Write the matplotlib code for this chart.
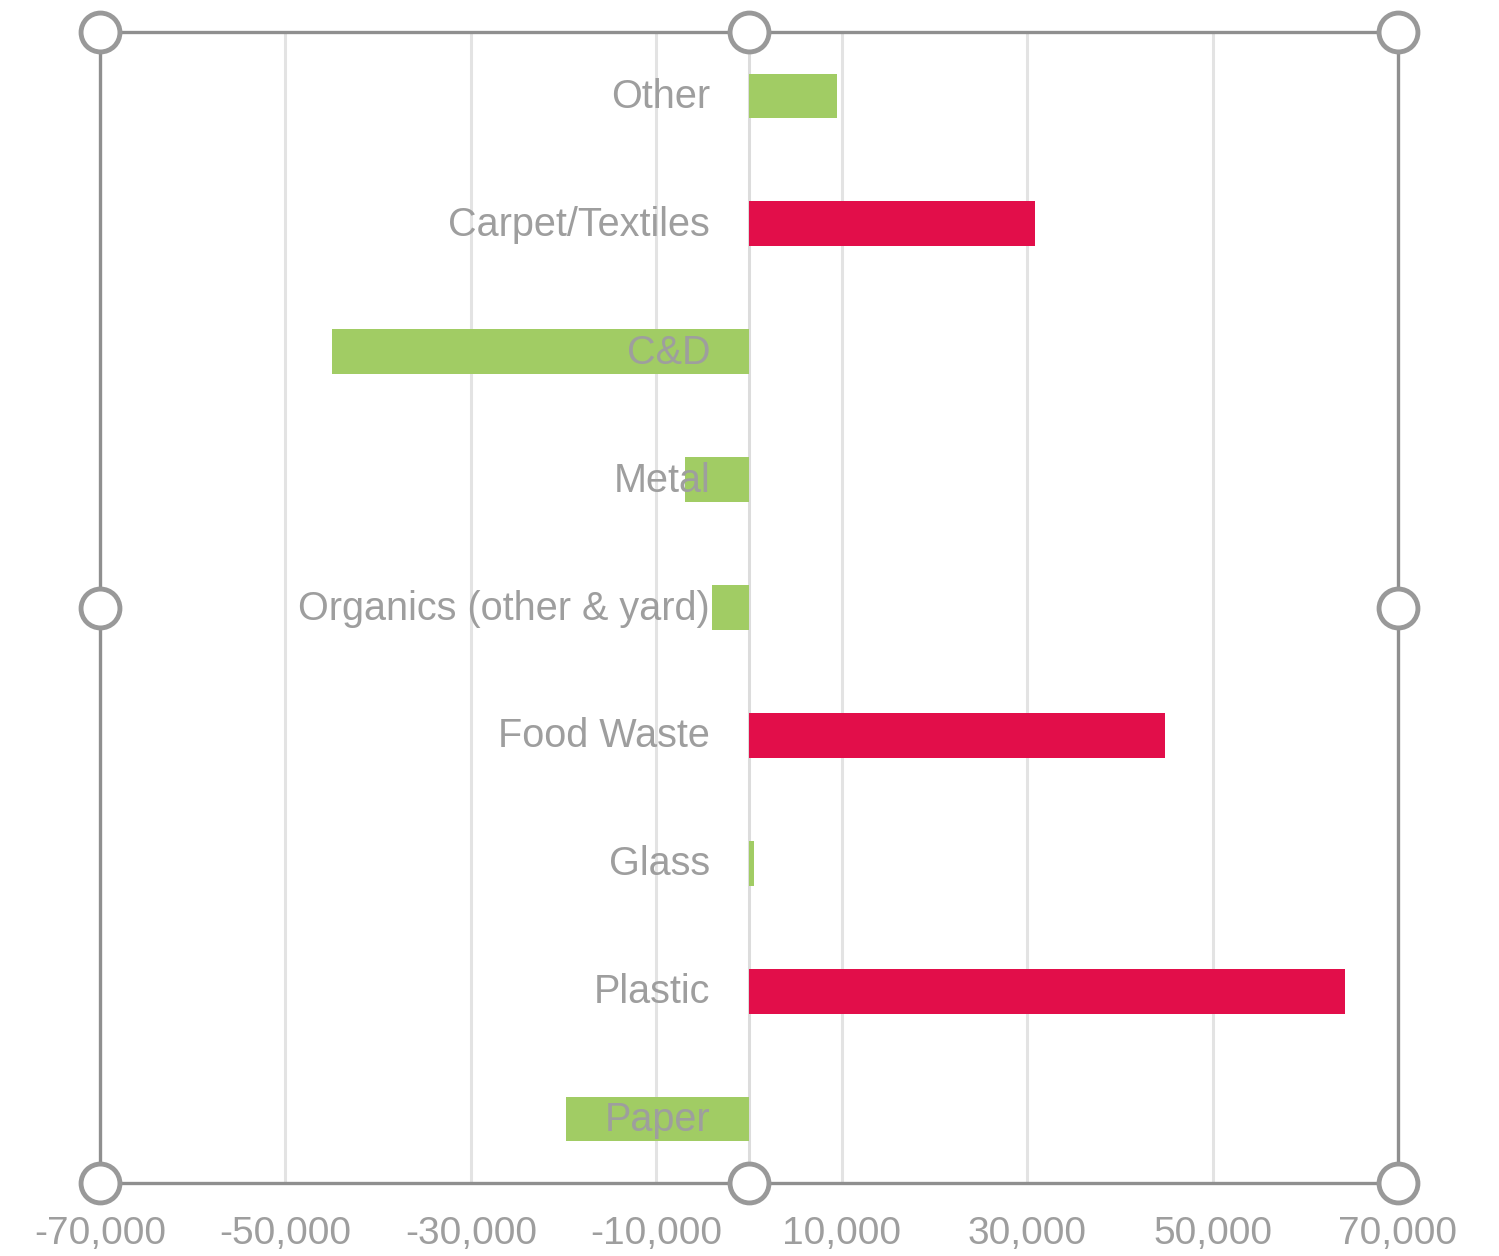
import matplotlib.pyplot as plt
import matplotlib.transforms as mtransforms

# donnees
categories = ["Paper", "Plastic", "Glass", "Food Waste", "Organics (other & yard)",
              "Metal", "C&D", "Carpet/Textiles", "Other"]
values = [-19700, 64300, 500, 44900, -4000, -6900, -45000, 30800, 9500]
colors = ["#A1CC64", "#E20E4A", "#A1CC64", "#E20E4A", "#A1CC64",
          "#A1CC64", "#A1CC64", "#E20E4A", "#A1CC64"]
xticks = [-70000, -50000, -30000, -10000, 10000, 30000, 50000, 70000]

plt.rcParams["font.family"] = ["Liberation Sans", "DejaVu Sans"]
txt = "#9e9e9e"

fig = plt.figure(figsize=(14.99, 12.56), dpi=100)
ax = fig.add_axes([100 / 1499, 1 - 1183 / 1256, 1298 / 1499, 1151 / 1256])

ypos = list(range(len(categories)))
ax.barh(ypos, values, height=0.35, color=colors, zorder=2)

ax.set_xlim(-70000, 70000)
ax.set_ylim(-0.5, len(categories) - 0.5)
ax.set_xticks(xticks)
ax.set_xticklabels([f"{v:,}" for v in xticks])
ax.grid(axis="x", color="#e3e3e3", linewidth=2.2, zorder=0)
ax.axvline(0, color="#dcdcdc", linewidth=2.2, zorder=1)

ax.set_yticks(ypos)
ax.set_yticklabels(categories)
ax.tick_params(axis="y", length=0, pad=28, labelsize=28.5, labelcolor=txt)
ax.tick_params(axis="x", length=0, pad=24, labelsize=28, labelcolor=txt)
ax.spines["left"].set_position(("data", 0))
ax.spines["left"].set_visible(False)
ax.yaxis.set_zorder(5)  # etiquettes par-dessus les barres

# petit decalage vers le haut des etiquettes
shift = mtransforms.ScaledTranslation(0, 3 / 100, fig.dpi_scale_trans)
for lab in ax.get_yticklabels():
    lab.set_transform(lab.get_transform() + shift)

# cadre de selection (poignees)
for s in ["top", "bottom", "right"]:
    ax.spines[s].set_color("#8f8f8f")
    ax.spines[s].set_linewidth(2.4)
ax.plot([0, 0], [0, 1], transform=ax.transAxes, color="#8f8f8f", lw=2.4,
        clip_on=False, zorder=6)
hx = [0, 0.5, 1, 0, 1, 0, 0.5, 1]
hy = [1, 1, 1, 0.5, 0.5, 0, 0, 0]
ax.plot(hx, hy, "o", transform=ax.transAxes, ms=28, mfc="white", mec="#999999",
        mew=3.5, clip_on=False, zorder=7)

fig.savefig("out.png", dpi=100)
